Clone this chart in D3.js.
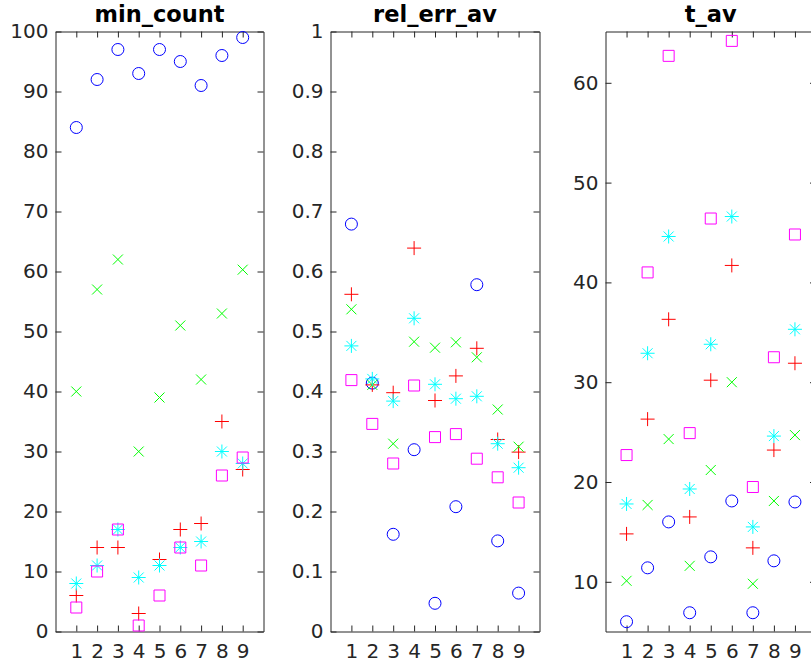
<!DOCTYPE html>
<html><head><meta charset="utf-8">
<script src="https://cdn.jsdelivr.net/npm/d3@7"></script>
<style>body{margin:0;background:#fff;overflow:hidden} text{font-family:"DejaVu Sans",sans-serif}</style>
</head><body><svg id="c" width="811" height="664"></svg>
<script>
const categories = [1,2,3,4,5,6,7,8,9];
const titles = ["min_count","rel_err_av","t_av"];

const minCountCircle = [84,92,97,93,97,95,91,96,99];
const minCountPlus   = [6,14,14,3,12,17,18,35,27];
const minCountCross  = [40,57,62,30,39,51,42,53,60.3];
const minCountStar   = [8,11,17,9,11,14,15,30,28];
const minCountSquare = [4,10,17,1,6,14,11,26,29];

const relErrCircle = [0.679,0.414,0.162,0.303,0.047,0.208,0.578,0.151,0.064];
const relErrPlus   = [0.562,0.411,0.398,0.639,0.385,0.426,0.472,0.320,0.299];
const relErrCross  = [0.537,0.411,0.313,0.483,0.473,0.482,0.457,0.370,0.308];
const relErrStar   = [0.476,0.421,0.384,0.522,0.412,0.388,0.392,0.313,0.273];
const relErrSquare = [0.419,0.346,0.280,0.410,0.324,0.329,0.288,0.257,0.215];

const tAvCircle = [6.0,11.4,16.0,6.9,12.5,18.1,6.9,12.1,18.0];
const tAvPlus   = [14.8,26.3,36.3,16.5,30.2,41.7,13.4,23.2,31.9];
const tAvCross  = [10.1,17.7,24.3,11.6,21.2,30.0,9.8,18.1,24.7];
const tAvStar   = [17.8,32.9,44.6,19.3,33.8,46.6,15.5,24.6,35.3];
const tAvSquare = [22.7,41.0,62.7,24.9,46.4,64.2,19.5,32.5,44.8];

const yDomains = [[0,100],[0,1],[5.02,65.14]];
const yTicks = [
  [0,10,20,30,40,50,60,70,80,90,100],
  [0,0.1,0.2,0.3,0.4,0.5,0.6,0.7,0.8,0.9,1],
  [10,20,30,40,50,60]
];
const yTickLabels = [
  ["0","10","20","30","40","50","60","70","80","90","100"],
  ["0","0.1","0.2","0.3","0.4","0.5","0.6","0.7","0.8","0.9","1"],
  ["10","20","30","40","50","60"]
];
const markerTypes = ["circle","plus","cross","star","square"];
const markerColors = ["#0000ff","#ff0000","#00ff00","#00ffff","#ff00ff"];
const panelSeries = [
  [minCountCircle,minCountPlus,minCountCross,minCountStar,minCountSquare],
  [relErrCircle,relErrPlus,relErrCross,relErrStar,relErrSquare],
  [tAvCircle,tAvPlus,tAvCross,tAvStar,tAvSquare]
];

const svg = d3.select("#c");
const panels = [[55.5,263.5],[330.5,539.5],[605.5,816]];
const plotTop = 31.5, plotBottom = 631.5;
const axisColor = "#262626";
const tickLen = 6;

function markerPath(type){
  const p = d3.path();
  if(type==="plus"){ p.moveTo(-7,0);p.lineTo(7,0);p.moveTo(0,-7);p.lineTo(0,7); }
  else if(type==="cross"){ p.moveTo(-5,-5);p.lineTo(5,5);p.moveTo(-5,5);p.lineTo(5,-5); }
  else if(type==="star"){ p.moveTo(-7,0);p.lineTo(7,0);p.moveTo(0,-7);p.lineTo(0,7);
    p.moveTo(-5,-5);p.lineTo(5,5);p.moveTo(-5,5);p.lineTo(5,-5); }
  else if(type==="square"){ p.rect(-5.5,-5.5,11,11); }
  return p.toString();
}

panels.forEach((pr,i)=>{
  const x = d3.scaleLinear().domain([0,10]).range(pr);
  const y = d3.scaleLinear().domain(yDomains[i]).range([plotBottom,plotTop]);
  const g = svg.append("g");
  const fmtY = d => yTickLabels[i][yTicks[i].indexOf(d)];

  const axL = g.append("g").attr("transform",`translate(${pr[0]},0)`)
    .call(d3.axisLeft(y).tickValues(yTicks[i]).tickFormat(fmtY).tickSizeInner(-tickLen).tickSizeOuter(0).tickPadding(7));
  const axR = g.append("g").attr("transform",`translate(${pr[1]},0)`)
    .call(d3.axisRight(y).tickValues(yTicks[i]).tickFormat("").tickSizeInner(-tickLen).tickSizeOuter(0));
  const axB = g.append("g").attr("transform",`translate(0,${plotBottom})`)
    .call(d3.axisBottom(x).tickValues(categories).tickFormat(d3.format("d")).tickSizeInner(-tickLen).tickSizeOuter(0).tickPadding(12));
  const axT = g.append("g").attr("transform",`translate(0,${plotTop})`)
    .call(d3.axisTop(x).tickValues(categories).tickFormat("").tickSizeInner(-tickLen).tickSizeOuter(0));
  [axL,axR,axB,axT].forEach(a=>{
    a.select(".domain").attr("stroke",axisColor).attr("stroke-width",1);
    a.selectAll(".tick line").attr("stroke",axisColor);
    a.selectAll("text").attr("fill",axisColor).style("font-size","20px").style("font-family","DejaVu Sans");
  });
  axB.selectAll("text").attr("dy","0.71em");

  g.append("text").attr("x",(pr[0]+pr[1])/2).attr("y",22)
    .attr("text-anchor","middle").style("font-size","22.5px").style("font-weight","bold")
    .attr("fill","#000").text(titles[i]);

  const plot = g.append("g");
  panelSeries[i].forEach((vals,s)=>{
    const t = markerTypes[s];
    const sel = plot.append("g").selectAll(".m").data(vals).enter();
    if(t==="circle"){
      sel.append("circle").attr("cx",(d,k)=>x(categories[k])).attr("cy",d=>y(d)).attr("r",6)
        .attr("fill","none").attr("stroke",markerColors[s]).attr("stroke-width",1);
    } else {
      sel.append("path").attr("d",markerPath(t))
        .attr("transform",(d,k)=>`translate(${x(categories[k])},${y(d)})`)
        .attr("fill","none").attr("stroke",markerColors[s]).attr("stroke-width",1);
    }
  });
});
</script></body></html>
